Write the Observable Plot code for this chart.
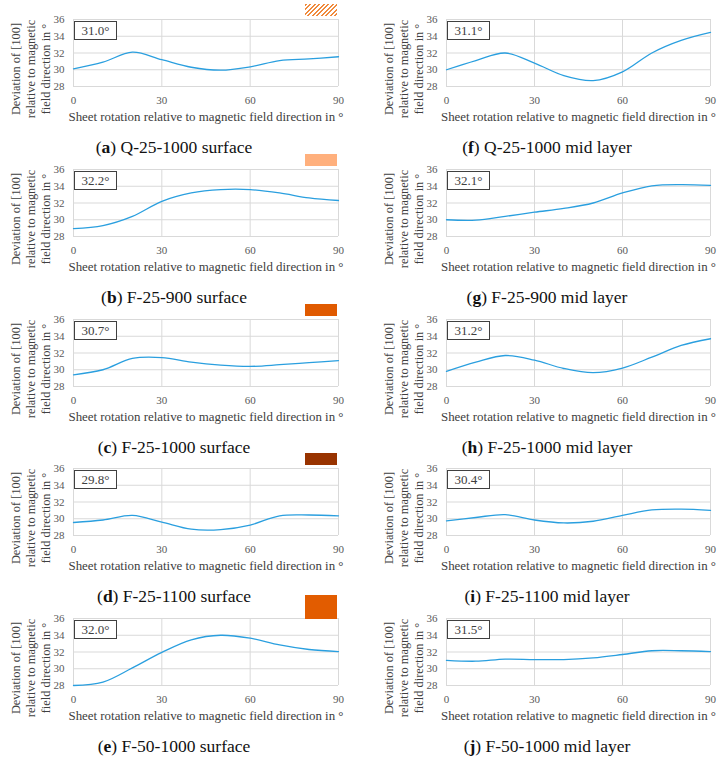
<!DOCTYPE html>
<html>
<head>
<meta charset="utf-8">
<script src="https://cdn.jsdelivr.net/npm/d3@7"></script>
<script src="https://cdn.jsdelivr.net/npm/@observablehq/plot@0.6"></script>
<style>
  html, body { margin: 0; padding: 0; background: #fff; }
  #root { position: relative; width: 725px; height: 765px; overflow: hidden; font-family: "Liberation Serif", "DejaVu Serif", serif; }
  .panel { position: absolute; }
  .panel svg { display: block; }
  .note { position: absolute; box-sizing: border-box; border: 1px solid #404040; background: #fff; color: #404040;
          font-size: 13px; text-align: center; line-height: 17px; }
  .cap { position: absolute; transform: translate(-50%, -50%); font-size: 17.5px; color: #111; white-space: nowrap; }
  .sw { position: absolute; }
</style>
</head>
<body>
<div id="root"></div>
<script>
// ---------------- data ----------------
const angles = [0, 10, 20, 30, 40, 50, 60, 70, 80, 90];

const qSurface1000  = [30.1, 30.9, 32.1, 31.2, 30.3, 29.95, 30.35, 31.1, 31.3, 31.55]; // (a)
const f900Surface   = [28.95, 29.3, 30.4, 32.2, 33.2, 33.6, 33.6, 33.2, 32.6, 32.3];  // (b)
const f1000Surface  = [29.4, 30.0, 31.35, 31.45, 30.9, 30.55, 30.4, 30.6, 30.85, 31.1]; // (c)
const f1100Surface  = [29.55, 29.85, 30.4, 29.6, 28.75, 28.7, 29.25, 30.35, 30.45, 30.35]; // (d)
const f50Surface    = [28.0, 28.4, 30.1, 31.95, 33.45, 34.0, 33.65, 32.85, 32.3, 32.05]; // (e)
const qMid1000      = [30.0, 31.1, 32.0, 30.8, 29.3, 28.7, 29.75, 32.0, 33.5, 34.45]; // (f)
const f900Mid       = [30.0, 29.95, 30.4, 30.9, 31.35, 32.0, 33.2, 34.05, 34.2, 34.1]; // (g)
const f1000Mid      = [29.8, 30.9, 31.7, 31.15, 30.15, 29.65, 30.2, 31.5, 32.9, 33.7]; // (h)
const f1100Mid      = [29.75, 30.15, 30.5, 29.85, 29.5, 29.7, 30.4, 31.05, 31.15, 31.0]; // (i)
const f50Mid        = [31.0, 30.9, 31.15, 31.1, 31.1, 31.3, 31.7, 32.15, 32.15, 32.05]; // (j)

const seriesList = [qSurface1000, f900Surface, f1000Surface, f1100Surface, f50Surface,
                    qMid1000, f900Mid, f1000Mid, f1100Mid, f50Mid];
const meanLabels = ["31.0°", "32.2°", "30.7°", "29.8°", "32.0°", "31.1°", "32.1°", "31.2°", "30.4°", "31.5°"];
const letters    = ["a", "b", "c", "d", "e", "f", "g", "h", "i", "j"];
const captions   = ["Q-25-1000 surface", "F-25-900 surface", "F-25-1000 surface", "F-25-1100 surface", "F-50-1000 surface",
                    "Q-25-1000 mid layer", "F-25-900 mid layer", "F-25-1000 mid layer", "F-25-1100 mid layer", "F-50-1000 mid layer"];
const swatchColors = ["hatch", "#FFB07D", "#E05A00", "#983300", "#E25C00"];

const xTicks = [0, 30, 60, 90];
const yTicks = [28, 30, 32, 34, 36];
const xTitle = "Sheet rotation relative to magnetic field direction in °";
const yTitle = "Deviation of [100]\nrelative to magnetic\nfield direction in °";

// ---------------- layout ----------------
const root = document.getElementById("root");
const lineColor = "#2A9FDF";

function rowTop(r) { return Math.round(r * 149.75); }

seriesList.forEach((vals, i) => {
  const col = i < 5 ? 0 : 1;
  const row = i % 5;
  const left = col === 0 ? 0 : 362;
  const width = col === 0 ? 362 : 363;
  const ml = col === 0 ? 73 : 84;
  const mr = col === 0 ? 24 : 15;
  const top = rowTop(row);
  const data = angles.map((a, k) => ({angle: a, value: vals[k]}));

  const chart = Plot.plot({
    width, height: 150,
    marginLeft: ml, marginRight: mr, marginTop: 19, marginBottom: 64,
    style: {fontFamily: "'Liberation Serif', serif", fontSize: "10.5px", color: "#595959", background: "transparent", overflow: "visible"},
    x: {domain: [0, 90], label: null, axis: null},
    y: {domain: [28, 36], label: null, axis: null},
    marks: [
      Plot.gridX(xTicks, {stroke: "#d9d9d9", strokeOpacity: 1}),
      Plot.gridY(yTicks, {stroke: "#d9d9d9", strokeOpacity: 1}),
      Plot.axisX(xTicks, {tickSize: 0, tickPadding: 10, label: null, fill: "#595959", fontSize: 11}),
      Plot.axisY(yTicks, {tickSize: 0, tickPadding: 9, label: null, fill: "#595959", fontSize: 11}),
      Plot.line(data, {x: "angle", y: "value", curve: "catmull-rom", stroke: lineColor, strokeWidth: 1.3}),
      Plot.text([xTitle], {text: d => d, frameAnchor: "bottom", dy: 34, fontSize: 12.9, fill: "#404040"}),
      Plot.text([yTitle], {text: d => d, frameAnchor: "left", textAnchor: "middle", dx: -43, dy: 16, rotate: -90,
                           lineHeight: 1.2, fontSize: 12.4, fill: "#404040"})
    ]
  });

  const div = document.createElement("div");
  div.className = "panel";
  div.style.left = left + "px";
  div.style.top = top + "px";
  div.appendChild(chart);
  root.appendChild(div);

  // mean-value box
  const note = document.createElement("div");
  note.className = "note";
  note.style.left = (left + ml + 1) + "px";
  note.style.top = (top + 21) + "px";
  note.style.width = "43px";
  note.style.height = "19px";
  note.textContent = meanLabels[i];
  root.appendChild(note);

  // caption
  const cap = document.createElement("div");
  cap.className = "cap";
  cap.style.left = (left + (col === 0 ? 174 : 185)) + "px";
  cap.style.top = (top + 147) + "px";
  cap.innerHTML = "(<b>" + letters[i] + "</b>) " + captions[i];
  root.appendChild(cap);
});

// colour swatches next to the surface panels
swatchColors.forEach((c, r) => {
  const sw = document.createElement("div");
  sw.className = "sw";
  const top = rowTop(r);
  sw.style.left = "305px";
  sw.style.width = "32px";
  if (r === 4) { sw.style.top = (top - 4) + "px"; sw.style.height = "24px"; }
  else { sw.style.top = (top + 4) + "px"; sw.style.height = "12px"; }
  if (c === "hatch") {
    sw.style.background = "repeating-linear-gradient(135deg, #F08A3C 0px, #F08A3C 1.6px, #ffffff 1.6px, #ffffff 3.2px)";
  } else {
    sw.style.background = c;
  }
  root.appendChild(sw);
});
</script>
</body>
</html>
